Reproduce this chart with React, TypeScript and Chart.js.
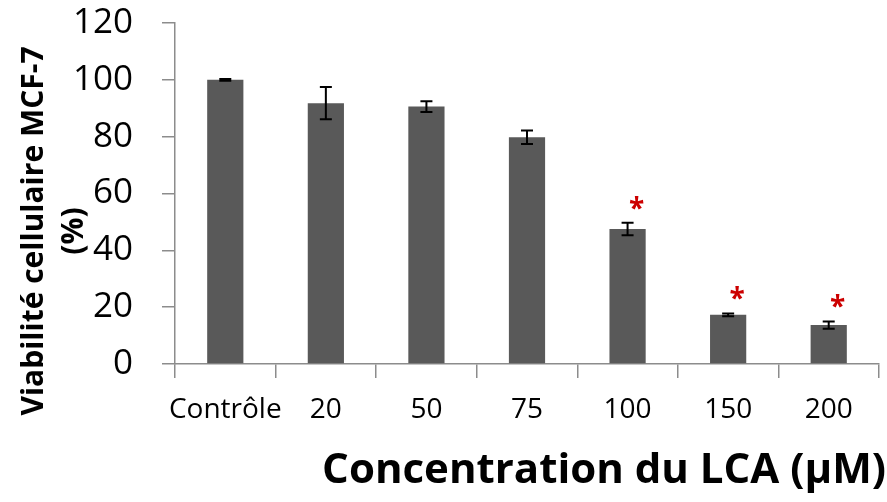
import React, { useEffect, useRef } from "react";
import { Chart, registerables } from "chart.js";

Chart.register(...registerables);

const categories = ["Contrôle", "20", "50", "75", "100", "150", "200"];
const viability = [100, 91.8, 90.6, 79.8, 47.5, 17.3, 13.7];
const errors = [0.3, 5.7, 1.9, 2.4, 2.2, 0.5, 1.3];
const significant = [false, false, false, false, true, true, true];
const yTicks = [0, 20, 40, 60, 80, 100, 120];
const yTitleLines = ["Viabilité cellulaire MCF-7", "(%)"];
const xTitle = "Concentration du LCA (µM)";

const FONT = "'Open Sans', 'DejaVu Sans', sans-serif";

const overlayPlugin = {
  id: "overlay",
  afterDatasetsDraw(chart: any) {
    const ctx = chart.ctx;
    const meta = chart.getDatasetMeta(0);
    const yScale = chart.scales.y;
    ctx.save();
    // error bars
    ctx.strokeStyle = "#000000";
    ctx.lineWidth = 2;
    meta.data.forEach((bar: any, i: number) => {
      const x = bar.x;
      const yTop = yScale.getPixelForValue(viability[i] + errors[i]);
      const yBot = yScale.getPixelForValue(viability[i] - errors[i]);
      ctx.beginPath();
      ctx.moveTo(x, yTop);
      ctx.lineTo(x, yBot);
      ctx.moveTo(x - 6, yTop);
      ctx.lineTo(x + 6, yTop);
      ctx.moveTo(x - 6, yBot);
      ctx.lineTo(x + 6, yBot);
      ctx.stroke();
    });
    // significance asterisks
    ctx.fillStyle = "#CC0000";
    ctx.font = `bold 28px ${FONT}`;
    ctx.textAlign = "center";
    ctx.textBaseline = "middle";
    meta.data.forEach((bar: any, i: number) => {
      if (!significant[i]) return;
      const yTop = yScale.getPixelForValue(viability[i] + errors[i]);
      ctx.fillText("*", bar.x + 9, yTop - 13);
    });
    ctx.restore();
  },
  afterDraw(chart: any) {
    const ctx = chart.ctx;
    ctx.save();
    ctx.fillStyle = "#000000";
    // y title (rotated)
    ctx.font = `bold 30px ${FONT}`;
    ctx.textAlign = "center";
    ctx.textBaseline = "alphabetic";
    ctx.translate(0, 231);
    ctx.rotate(-Math.PI / 2);
    ctx.fillText(yTitleLines[0], 0, 43);
    ctx.fillText(yTitleLines[1], 0, 83);
    ctx.restore();
    ctx.save();
    ctx.fillStyle = "#000000";
    ctx.font = `bold 42px ${FONT}`;
    ctx.textAlign = "right";
    ctx.textBaseline = "alphabetic";
    ctx.fillText(xTitle, 886, 483);
    ctx.restore();
  },
};

export default function App() {
  const canvasRef = useRef<HTMLCanvasElement | null>(null);

  useEffect(() => {
    if (!canvasRef.current) return;
    const chart = new Chart(canvasRef.current, {
      type: "bar",
      data: {
        labels: categories,
        datasets: [
          {
            data: viability,
            backgroundColor: "#595959",
            borderWidth: 0,
            barPercentage: 0.36,
            categoryPercentage: 1,
          },
        ],
      },
      options: {
        animation: false,
        responsive: false,
        maintainAspectRatio: false,
        layout: { padding: { top: 0, right: 8, left: 0, bottom: 0 } },
        plugins: {
          legend: { display: false },
          tooltip: { enabled: false },
        },
        scales: {
          x: {
            grid: {
              display: true,
              drawOnChartArea: false,
              drawTicks: true,
              tickLength: 14,
              color: "#8c8c8c",
              lineWidth: 1.5,
              offset: true,
            },
            border: { display: true, color: "#8c8c8c", width: 1.5 },
            ticks: {
              color: "#000000",
              font: { family: FONT, size: 28 },
              padding: 15,
              maxRotation: 0,
              autoSkip: false,
            },
            afterFit: (s: any) => {
              s.height = 138;
              s.paddingLeft = 0;
              s.paddingRight = 0;
            },
          },
          y: {
            min: 0,
            max: 120,
            afterBuildTicks: (s: any) => {
              s.ticks = yTicks.map((v) => ({ value: v }));
            },
            grid: {
              display: true,
              drawOnChartArea: false,
              drawTicks: true,
              tickLength: 13,
              color: "#8c8c8c",
              lineWidth: 1.5,
            },
            border: { display: true, color: "#8c8c8c", width: 1.5 },
            ticks: {
              color: "#000000",
              font: { family: FONT, size: 35 },
              padding: 29,
            },
            afterFit: (s: any) => {
              s.width = 175;
              s.paddingTop = 23;
              s.paddingBottom = 0;
            },
          },
        },
      },
      plugins: [overlayPlugin],
    });
    return () => chart.destroy();
  }, []);

  return (
    <div style={{ position: "fixed", left: 0, top: 0, width: 887, height: 502, background: "#ffffff" }}>
      <canvas ref={canvasRef} width={887} height={502} style={{ width: 887, height: 502 }} />
    </div>
  );
}
